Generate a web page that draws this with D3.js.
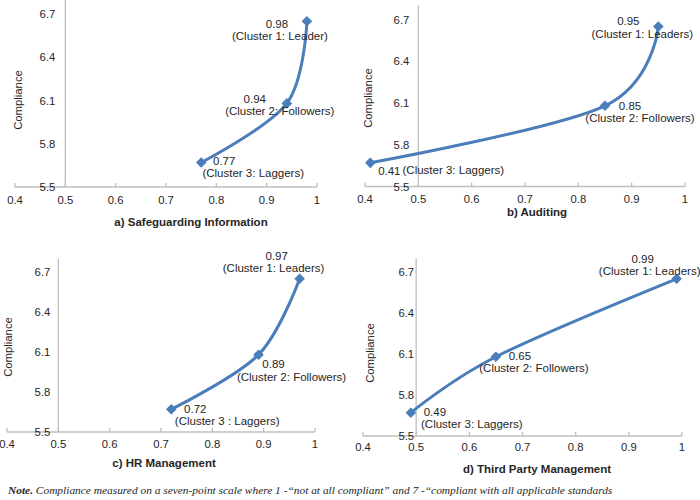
<!DOCTYPE html>
<html>
<head>
<meta charset="utf-8">
<script src="https://cdn.jsdelivr.net/npm/d3@7"></script>
<style>
  html, body { margin: 0; padding: 0; background: #fff; }
  svg { display: block; }
  text { font-family: "Liberation Sans", Arial, sans-serif; fill: #262626; }
</style>
</head>
<body>
<svg id="chart" width="700" height="500"></svg>
<script>
// ---- data ----
const panelTitles = ["a) Safeguarding Information", "b) Auditing", "c) HR Management", "d) Third Party Management"];
const compliance = [6.65, 6.08, 5.67];            // y values (Leaders, Followers, Laggers)
const valuesA = [0.98, 0.94, 0.77];
const valuesB = [0.95, 0.85, 0.41];
const valuesC = [0.97, 0.89, 0.72];
const valuesD = [0.99, 0.65, 0.49];
const clusterLabelsA = ["(Cluster 1: Leader)", "(Cluster 2: Followers)", "(Cluster 3: Laggers)"];
const clusterLabelsB = ["(Cluster 1: Leaders)", "(Cluster 2: Followers)", "(Cluster 3: Laggers)"];
const clusterLabelsC = ["(Cluster 1: Leaders)", "(Cluster 2: Followers)", "(Cluster 3 : Laggers)"];
const clusterLabelsD = ["(Cluster 1: Leaders)", "(Cluster 2: Followers)", "(Cluster 3: Laggers)"];
const xTicks = [0.4, 0.5, 0.6, 0.7, 0.8, 0.9, 1];
const yTicks = [5.5, 5.8, 6.1, 6.4, 6.7];
const yAxisTitle = "Compliance";

// ---- layout (positions only) ----
const layouts = [
  { x0: 15, x1: 317, yB: 187, yT: 14, gap: 10, title: [191, 226], ylab: [18, 100], tickY: 204,
    lab: [[-30, 3, -27, 15], [-32, -4, -7, 8], [23, -1, 52, 11]] },
  { x0: 365, x1: 685, yB: 186.5, yT: 19.5, gap: 9, title: [537, 216], ylab: [368, 98], tickY: 203,
    lab: [[-30, -5, -16, 8], [25, 0, 35, 12], [19, 8, 83, 7]] },
  { x0: 7, x1: 315, yB: 432, yT: 272, gap: 8, title: [164, 467], ylab: [8, 347], tickY: 448,
    lab: [[-23, -23, -26, -11], [15, 9, 33, 22], [24, 0, 56, 12]] },
  { x0: 363, x1: 682, yB: 436, yT: 272, gap: 2, title: [537, 473], ylab: [370, 353], tickY: 451,
    lab: [[-34, -20, -27, -8], [24, -1, 38, 11], [24, -1, 61, 11]] }
];

const seriesX = [valuesA, valuesB, valuesC, valuesD];
const seriesLabels = [clusterLabelsA, clusterLabelsB, clusterLabelsC, clusterLabelsD];

const svg = d3.select("#chart");
const lineColor = "#4a7dba";
const axisColor = "#bfbfbf";

panelTitles.forEach((title, i) => {
  const L = layouts[i];
  const x = d3.scaleLinear().domain([0.4, 1]).range([L.x0, L.x1]);
  const y = d3.scaleLinear().domain([5.5, 6.7]).range([L.yB, L.yT]);
  const yTop = y(6.8);
  const g = svg.append("g");

  // x axis line
  g.append("line").attr("x1", x(0.4)).attr("x2", x(1)).attr("y1", y(5.5)).attr("y2", y(5.5))
    .attr("stroke", axisColor).attr("stroke-width", 1.3);
  // x ticks
  g.selectAll(".xt").data(xTicks).enter().append("line")
    .attr("x1", d => x(d)).attr("x2", d => x(d)).attr("y1", y(5.5)).attr("y2", y(5.5) - 4)
    .attr("stroke", axisColor).attr("stroke-width", 1.3);
  g.selectAll(".xl").data(xTicks).enter().append("text")
    .attr("x", d => x(d)).attr("y", L.tickY).attr("text-anchor", "middle")
    .attr("font-size", 11.3).text(d => d3.format("")(d));

  // y axis line at x = 0.5
  g.append("line").attr("x1", x(0.5)).attr("x2", x(0.5)).attr("y1", yTop).attr("y2", y(5.5))
    .attr("stroke", axisColor).attr("stroke-width", 1.3);
  g.selectAll(".yl").data(yTicks).enter().append("text")
    .attr("x", x(0.5) - L.gap).attr("y", d => y(d) + 4).attr("text-anchor", "end")
    .attr("font-size", 11.3).text(d => d3.format(".1f")(d));

  // y axis title
  g.append("text").attr("transform", `translate(${L.ylab[0] + 4},${L.ylab[1]}) rotate(-90)`)
    .attr("text-anchor", "middle").attr("font-size", 11.3).text(yAxisTitle);

  // panel title
  g.append("text").attr("x", L.title[0]).attr("y", L.title[1]).attr("text-anchor", "middle")
    .attr("font-size", 11.5).attr("font-weight", "bold").text(title);

  const pts = seriesX[i].map((v, k) => ({ x: v, y: compliance[k], k }));
  // smoothed line, drawn from laggers to leaders
  const lineGen = d3.line().x(d => x(d.x)).y(d => y(d.y)).curve(d3.curveCardinal.tension(0));
  g.append("path").datum(pts.slice().reverse()).attr("d", lineGen)
    .attr("fill", "none").attr("stroke", lineColor).attr("stroke-width", 3);

  // diamond markers
  g.selectAll(".mk").data(pts).enter().append("path")
    .attr("d", d3.symbol().type(d3.symbolSquare).size(42))
    .attr("transform", d => `translate(${x(d.x)},${y(d.y)}) rotate(45)`)
    .attr("fill", lineColor).attr("stroke", lineColor).attr("stroke-width", 1);

  // data labels
  pts.forEach(d => {
    const o = L.lab[d.k];
    const px = x(d.x), py = y(d.y);
    g.append("text").attr("x", px + o[0]).attr("y", py + o[1] + 4).attr("text-anchor", "middle")
      .attr("font-size", 11.5).text(d3.format(".2f")(d.x));
    g.append("text").attr("x", px + o[2]).attr("y", py + o[3] + 4).attr("text-anchor", "middle")
      .attr("font-size", 11.5).text(seriesLabels[i][d.k]);
  });
});

// note
const note = svg.append("text").attr("x", 8).attr("y", 494)
  .style("font-family", "'Liberation Serif', 'Times New Roman', serif")
  .attr("font-size", 11.4).attr("font-style", "italic");
note.append("tspan").attr("font-weight", "bold").text("Note.");
note.append("tspan").text(" Compliance measured on a seven-point scale where 1 -“not at all compliant” and 7 -“compliant with all applicable standards");
</script>
</body>
</html>
